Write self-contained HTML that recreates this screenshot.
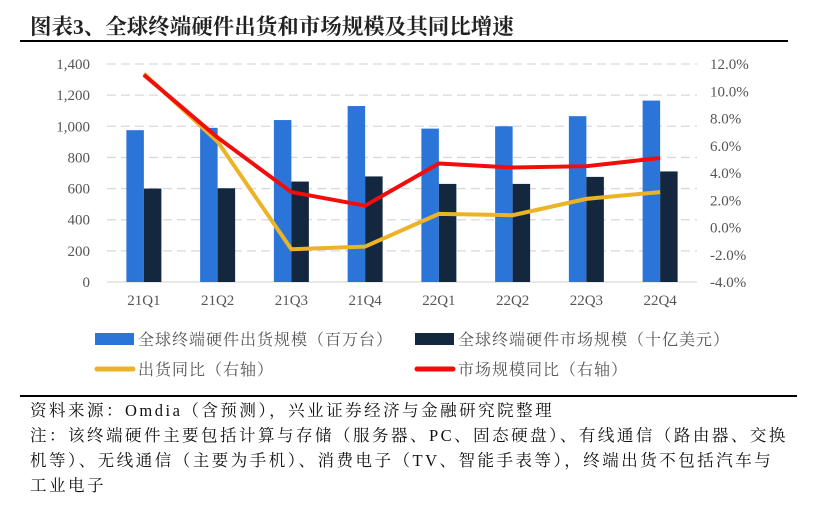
<!DOCTYPE html>
<html><head><meta charset="utf-8"><style>
body{margin:0;width:836px;height:517px;background:#fff;overflow:hidden;position:relative;font-family:"Liberation Serif","Noto Serif CJK SC",serif;}
.t{position:absolute;white-space:nowrap;}
</style></head><body>
<div class="t" style="left:30px;top:10px;font-size:21.5px;font-weight:bold;color:#222;">图表3、全球终端硬件出货和市场规模及其同比增速</div>
<div style="position:absolute;left:20px;top:40px;width:768px;height:2px;background:#000"></div>
<svg id="chart" width="836" height="390" style="position:absolute;left:0;top:0" font-family="Liberation Serif, serif"></svg>
<div class="t" style="position:absolute;left:20px;top:395px;width:777px;height:1.5px;background:#000"></div>
<div class="t" style="left:30px;top:398px;font-size:16.5px;letter-spacing:2.5px;line-height:25px;color:#111;">资料来源：Omdia（含预测），兴业证券经济与金融研究院整理<br>注：该终端硬件主要包括计算与存储（服务器、PC、固态硬盘）、有线通信（路由器、交换<br>机等）、无线通信（主要为手机）、消费电子（TV、智能手表等），终端出货不包括汽车与<br>工业电子</div>
<script>
const categories=["21Q1","21Q2","21Q3","21Q4","22Q1","22Q2","22Q3","22Q4"];
const shipments=[975,990,1040,1130,985,1000,1065,1165];
const marketSize=[600,602,645,678,630,630,675,710];
const shipYoY=[11.3,6.3,-1.6,-1.4,1.0,0.9,2.1,2.6];
const marketYoY=[11.2,6.6,2.6,1.6,4.7,4.4,4.5,5.1];
const leftTicks=[0,200,400,600,800,1000,1200,1400];
const rightTicks=[-4,-2,0,2,4,6,8,10,12];
const NS="http://www.w3.org/2000/svg";
const svg=document.getElementById('chart');
const X0=107,X1=697,Y0=282,Y1=64;
const yL=v=>Y0-(v/1400)*(Y0-Y1);
const yR=v=>Y0-((v+4)/16)*(Y0-Y1);
const bw=(X1-X0)/categories.length;
const xc=i=>X0+bw*(i+0.5);
function mk(t,a){const e=document.createElementNS(NS,t);for(const k in a)e.setAttribute(k,a[k]);svg.appendChild(e);return e;}
leftTicks.forEach(v=>{
  const g=mk('line',{x1:X0,x2:X1,y1:yL(v),y2:yL(v),stroke:'#d9d9d9','stroke-width':1.3,'stroke-dasharray':v===0?'':'9,5'});
  
  
  const t=mk('text',{x:90,y:yL(v)+5,'text-anchor':'end','font-size':15,fill:'#555'});t.textContent=v.toLocaleString('en-US');
  
  
});
rightTicks.forEach(v=>{
  const t=mk('text',{x:710,y:yR(v)+5,'font-size':15,fill:'#555'});t.textContent=v.toFixed(1)+'%';
  
  
});
categories.forEach((c,i)=>{
  const b1=mk('rect',{x:xc(i)-17.5,y:yL(shipments[i]),width:17.5,height:Y0-yL(shipments[i]),fill:'#2b75d9'});
  
  
  const b2=mk('rect',{x:xc(i),y:yL(marketSize[i]),width:17.5,height:Y0-yL(marketSize[i]),fill:'#13283f'});
  
  
  const t=mk('text',{x:xc(i),y:305,'text-anchor':'middle','font-size':15,fill:'#555'});t.textContent=c;
  
  
});
const l1=mk('polyline',{points:shipYoY.map((v,i)=>xc(i)+','+yR(v)).join(' '),fill:'none',stroke:'#ebb325','stroke-width':4,'stroke-linejoin':'round'});


const l2=mk('polyline',{points:marketYoY.map((v,i)=>xc(i)+','+yR(v)).join(' '),fill:'none',stroke:'#f20d0d','stroke-width':4,'stroke-linejoin':'round'});


const leg=[[95,339,'rect','#2b75d9','全球终端硬件出货规模（百万台）'],[415,339,'rect','#13283f','全球终端硬件市场规模（十亿美元）'],[95,369,'line','#ebb325','出货同比（右轴）'],[415,369,'line','#f20d0d','市场规模同比（右轴）']];
leg.forEach(l=>{
  let s;
  if(l[2]==='rect')s=mk('rect',{x:l[0],y:l[1]-6,width:39,height:12,fill:l[3]});
  else s=mk('line',{x1:l[0]+2,x2:l[0]+38,y1:l[1],y2:l[1],stroke:l[3],'stroke-width':5,'stroke-linecap':'round'});
  
  
  const t=mk('text',{x:l[0]+43,y:l[1]+6,'font-size':16,'letter-spacing':1,fill:'#555','font-family':'Liberation Serif, Noto Serif CJK SC, serif'});t.textContent=l[4];
  
  
});
</script>
</body></html>
